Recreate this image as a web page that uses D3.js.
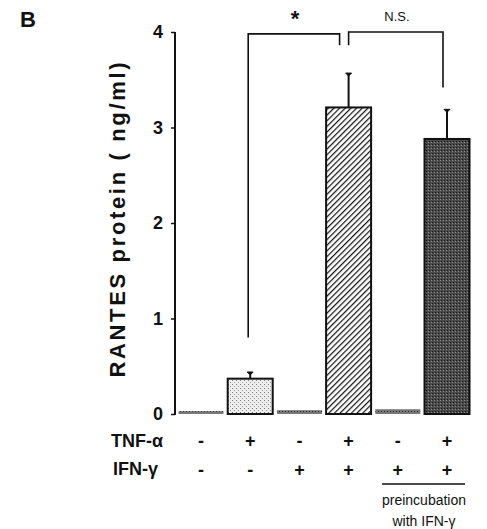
<!DOCTYPE html>
<html><head><meta charset="utf-8">
<script src="https://cdn.jsdelivr.net/npm/d3@7"></script>
<style>body{margin:0;background:#fff}svg{display:block}text{font-family:"Liberation Sans",Arial,sans-serif;font-weight:bold;fill:#111}</style>
</head><body><svg id="c" width="487" height="529"></svg>
<script>
const groups = ["g1","g2","g3","g4","g5","g6"];
const values = [0.03, 0.37, 0.04, 3.21, 0.05, 2.88];
const errTops = [null, 0.44, null, 3.57, null, 3.19];
const fills = ["stipple","light","stipple","hatch","stipple","dark"];
const tnf = ["-","+","-","+","-","+"];
const ifn = ["-","-","+","+","+","+"];
const yTicks = [0,1,2,3,4];

const svg = d3.select("#c");
const y = d3.scaleLinear().domain([0,4]).range([414,32]);
const x = d3.scalePoint().domain(groups).range([201,447]);
const bw = 45;

const defs = svg.append("defs");
const pl = defs.append("pattern").attr("id","light").attr("patternUnits","userSpaceOnUse").attr("width",4).attr("height",4);
pl.append("rect").attr("width",4).attr("height",4).attr("fill","#eee");
pl.append("rect").attr("x",0).attr("y",0).attr("width",1).attr("height",1).attr("fill","#777");
pl.append("rect").attr("x",2).attr("y",2).attr("width",1).attr("height",1).attr("fill","#999");
const ps = defs.append("pattern").attr("id","stipple").attr("patternUnits","userSpaceOnUse").attr("width",3).attr("height",3);
ps.append("rect").attr("width",3).attr("height",3).attr("fill","#777");
ps.append("rect").attr("width",1).attr("height",1).attr("fill","#222");
const ph = defs.append("pattern").attr("id","hatch").attr("patternUnits","userSpaceOnUse").attr("width",4).attr("height",4).attr("patternTransform","rotate(45)");
ph.append("rect").attr("width",4).attr("height",4).attr("fill","#fff");
ph.append("line").attr("x1",0).attr("y1",0).attr("x2",0).attr("y2",4).attr("stroke","#111").attr("stroke-width",2.4);
const pd = defs.append("pattern").attr("id","dark").attr("patternUnits","userSpaceOnUse").attr("width",3).attr("height",3);
pd.append("rect").attr("width",3).attr("height",3).attr("fill","#4a4a4a");
pd.append("rect").attr("width",1).attr("height",1).attr("fill","#1a1a1a");
pd.append("rect").attr("x",2).attr("y",1).attr("width",1).attr("height",1).attr("fill","#888");

const axis = svg.append("g").attr("transform","translate(175,0)")
  .call(d3.axisLeft(y).tickValues(yTicks).tickFormat(d3.format("d")).tickSize(4).tickPadding(8));
axis.select(".domain").attr("stroke","#111").attr("stroke-width",2).attr("d",`M0,${y(4)}V${y(0)+1}`);
axis.selectAll(".tick line").attr("stroke","#111").attr("stroke-width",1.5);
axis.selectAll(".tick text").style("font-size","18px").style("font-family","'Liberation Sans',Arial,sans-serif").style("font-weight","bold").attr("fill","#111");

svg.append("g").selectAll("rect").data(groups).join("rect")
  .attr("x",d=>x(d)-bw/2).attr("width",bw)
  .attr("y",(d,i)=>y(values[i])).attr("height",(d,i)=>y(0)-y(values[i]))
  .attr("fill",(d,i)=>`url(#${fills[i]})`)
  .attr("stroke",(d,i)=>values[i]>0.2?"#111":"none").attr("stroke-width",2);

groups.forEach((g,i)=>{
  if(errTops[i]==null) return;
  svg.append("line").attr("x1",x(g)).attr("x2",x(g)).attr("y1",y(values[i])).attr("y2",y(errTops[i])).attr("stroke","#111").attr("stroke-width",2);
  svg.append("path").attr("d",`M${x(g)-3},${y(errTops[i])}H${x(g)+3}L${x(g)},${y(errTops[i])+3}Z`).attr("fill","#111").attr("stroke","#111").attr("stroke-width",1);
});

const br = svg.append("g").attr("fill","none").attr("stroke","#111").attr("stroke-width",1.6);
br.append("path").attr("d",`M${x("g2")-2},${y(0.80)}V${y(3.98)}H${x("g4")-9}V${y(3.86)}`);
br.append("path").attr("d",`M${x("g4")},${y(3.86)}V${y(4.0)}H${x("g6")-4}V${y(3.42)}`);
svg.append("text").attr("x",295).attr("y",26).attr("text-anchor","middle").style("font-size","22px").text("*");
svg.append("text").attr("x",397).attr("y",21).attr("text-anchor","middle").style("font-size","13px").style("font-weight","normal").text("N.S.");

svg.append("text").attr("x",28).attr("y",27).attr("text-anchor","middle").style("font-size","22px").text("B");

svg.append("text").attr("transform","translate(125,220) rotate(-90)").attr("text-anchor","middle")
  .style("font-size","22px").attr("textLength",315).attr("lengthAdjust","spacing").text("RANTES protein ( ng/ml)");

svg.append("text").attr("x",111).attr("y",447).style("font-size","18px").text("TNF-α");
svg.append("text").attr("x",113).attr("y",475).style("font-size","18px").text("IFN-γ");
svg.append("g").selectAll("text").data(groups).join("text").attr("x",d=>x(d)).attr("y",447).attr("text-anchor","middle").style("font-size","18px").text((d,i)=>tnf[i]);
svg.append("g").selectAll("text").data(groups).join("text").attr("x",d=>x(d)).attr("y",476).attr("text-anchor","middle").style("font-size","18px").text((d,i)=>ifn[i]);

svg.append("line").attr("x1",382).attr("x2",465).attr("y1",484).attr("y2",484).attr("stroke","#111").attr("stroke-width",1.3);
svg.append("text").attr("x",424).attr("y",505).attr("text-anchor","middle").style("font-size","14px").style("font-weight","normal").text("preincubation");
svg.append("text").attr("x",424).attr("y",526).attr("text-anchor","middle").style("font-size","14px").style("font-weight","normal").text("with IFN-γ");
</script></body></html>
